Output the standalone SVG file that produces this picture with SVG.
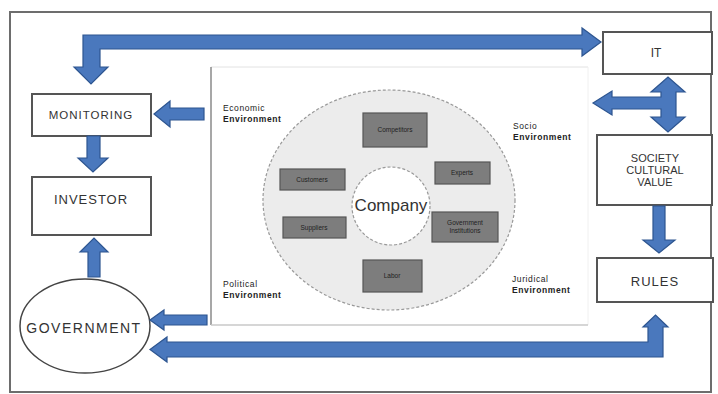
<svg xmlns="http://www.w3.org/2000/svg" width="718" height="394" viewBox="0 0 718 394">
<style>
.box{fill:#fff;stroke:#555;stroke-width:2}
.arr{fill:#4a78bd;stroke:#2d5590;stroke-width:1.2}
.lbl{font-family:"Liberation Sans",Arial,sans-serif;fill:#333;text-anchor:middle}
.env{font-family:"Liberation Sans",Arial,sans-serif;font-size:8.5px;fill:#222;letter-spacing:0.6px}
.sh{fill:#7d7d7d;stroke:#555;stroke-width:1.2}
.shl{font-family:"Liberation Sans",Arial,sans-serif;font-size:6.5px;fill:#222;text-anchor:middle}
</style>
<rect x="0" y="0" width="718" height="394" fill="#fff"/>
<rect x="10" y="12" width="701" height="380" fill="none" stroke="#6d6d6d" stroke-width="2"/>
<g id="environment">
<line x1="211" y1="67" x2="588" y2="67" stroke="#e2e2e2" stroke-width="1"/>
<line x1="588" y1="67" x2="588" y2="325" stroke="#f0f0f0" stroke-width="1"/>
<line x1="211" y1="67" x2="211" y2="325" stroke="#8a8a8a" stroke-width="1.5"/>
<line x1="211" y1="325" x2="588" y2="325" stroke="#c8c8c8" stroke-width="1.5"/>
<ellipse cx="389" cy="200" rx="126" ry="110" fill="#ececec" stroke="#999" stroke-width="1.2" stroke-dasharray="3 2"/>
<text class="env" x="223" y="111">Economic</text>
<text class="env" x="223" y="122" font-weight="bold">Environment</text>
<text class="env" x="513" y="129">Socio</text>
<text class="env" x="513" y="140" font-weight="bold">Environment</text>
<text class="env" x="223" y="287">Political</text>
<text class="env" x="223" y="298" font-weight="bold">Environment</text>
<text class="env" x="512" y="282">Juridical</text>
<text class="env" x="512" y="293" font-weight="bold">Environment</text>
</g>
<g id="company">
<circle cx="391" cy="206" r="39" fill="#fff" stroke="#999" stroke-width="1.2" stroke-dasharray="3 2"/>
<text class="lbl" x="391" y="211" font-size="17" fill="#222">Company</text>
</g>
<g id="competitors"><rect class="sh" x="363" y="113" width="64" height="34"/><text class="shl" x="395" y="132">Competitors</text></g>
<g id="customers"><rect class="sh" x="280" y="169" width="65" height="21"/><text class="shl" x="312" y="182">Customers</text></g>
<g id="suppliers"><rect class="sh" x="283" y="217" width="63" height="21"/><text class="shl" x="314" y="230">Suppliers</text></g>
<g id="experts"><rect class="sh" x="435" y="162" width="55" height="22"/><text class="shl" x="462" y="175">Experts</text></g>
<g id="institutions"><rect class="sh" x="432" y="212" width="66" height="30"/><text class="shl" x="465" y="225">Government</text><text class="shl" x="465" y="233">Institutions</text></g>
<g id="labor"><rect class="sh" x="363" y="260" width="59" height="32"/><text class="shl" x="392" y="278">Labor</text></g>
<g id="it"><rect class="box" x="603" y="32" width="109" height="42"/><text class="lbl" x="656" y="57" font-size="12">IT</text></g>
<g id="monitoring"><rect class="box" x="32" y="94" width="119" height="42"/><text class="lbl" x="91" y="119" font-size="11.5" letter-spacing="1">MONITORING</text></g>
<g id="investor"><rect class="box" x="32" y="177" width="119" height="58"/><text class="lbl" x="91" y="204" font-size="13" letter-spacing="1">INVESTOR</text></g>
<g id="government"><ellipse cx="85" cy="326" rx="65" ry="47" fill="#fff" stroke="#444" stroke-width="1.5"/><text class="lbl" x="84" y="333" font-size="14" letter-spacing="1.5">GOVERNMENT</text></g>
<g id="society"><rect class="box" x="597" y="135" width="115" height="70"/><text class="lbl" x="655" y="162" font-size="11">SOCIETY</text><text class="lbl" x="655" y="174" font-size="11">CULTURAL</text><text class="lbl" x="655" y="186" font-size="11">VALUE</text></g>
<g id="rules"><rect class="box" x="597" y="258" width="116" height="44"/><text class="lbl" x="655" y="286" font-size="13" letter-spacing="1">RULES</text></g>
<g id="connectors">
<path class="arr" d="M83,67 L83,35 L582,35 L582,28 L601,42 L582,56 L582,49 L100,49 L100,67 L108,67 L91,84 L74,67 Z"/>
<path class="arr" d="M204,108 L170,108 L170,101 L154,114 L170,127 L170,120 L204,120 Z"/>
<path class="arr" d="M87,136 L100,136 L100,158 L108,158 L93,172 L78,158 L87,158 Z"/>
<path class="arr" d="M88,277 L88,252 L80,252 L94,238 L108,252 L100,252 L100,277 Z"/>
<path class="arr" d="M207,315 L164,315 L164,310 L150,320 L164,330 L164,325 L207,325 Z"/>
<path class="arr" d="M167,342 L648,342 L648,327 L643,327 L655.5,315 L668,327 L663,327 L663,357 L167,357 L167,362 L150,349.5 L167,337 Z"/>
<path class="arr" d="M653,206 L665,206 L665,240 L675,240 L659,253 L643,240 L653,240 Z"/>
<path class="arr" d="M661,92 L651,92 L668,77 L685,92 L676,92 L676,117 L685,117 L668,132 L651,117 L661,117 L661,109 L612,109 L612,115 L593,103 L612,91 L612,97 L661,97 Z"/>
</g>
</svg>
